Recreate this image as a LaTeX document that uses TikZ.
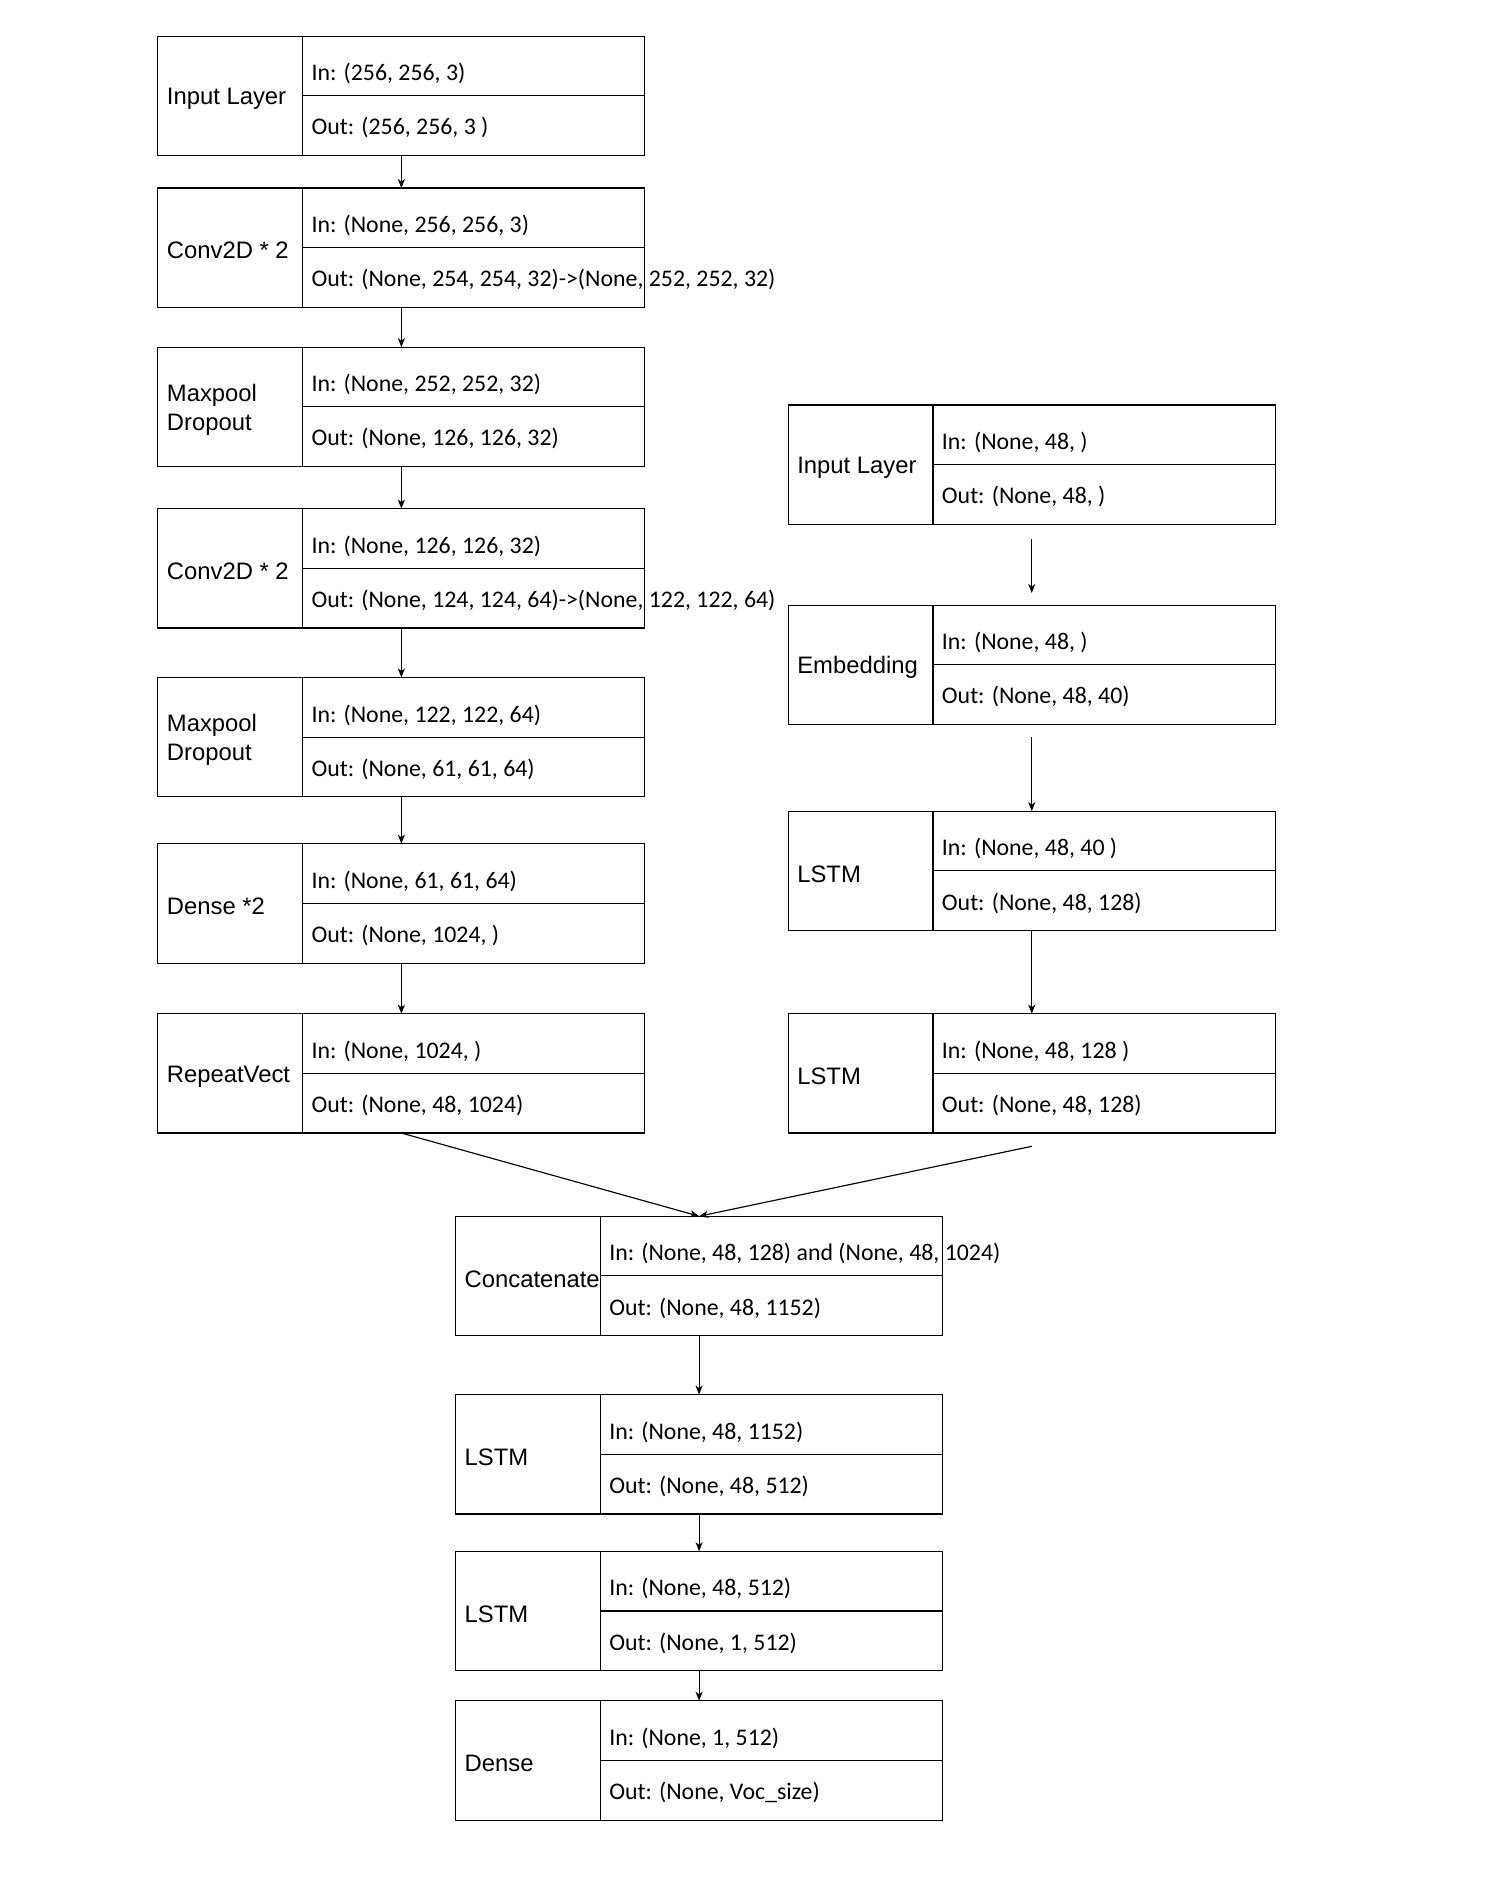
\documentclass[tikz,border=0pt]{standalone}
\usepackage{fontspec}
\setmainfont{Carlito}
\newfontfamily\labelfont{Liberation Sans}
\usetikzlibrary{arrows.meta,calc}

\newcommand{\layer}[6]{%
  \node[layerbox] (#1) at (#2,#3) {};
  \draw ($(#1.north west)+(120,0)$) coordinate (#1-d) -- (#1-d |- #1.south);
  \draw (#1-d |- #1.east) -- (#1.east);
  \node[labeltext] (#1-name) at ($(#1.west)+(7,2.5)$) {#4};
  \node[iotext] (#1-in) at ($(#1.north west)+(127,37)$) {In: #5};
  \node[iotext] (#1-out) at ($(#1.north west)+(127,82)$) {Out: #6};
}

\begin{document}
\begin{tikzpicture}[x=0.024cm, y=-0.024cm, line width=0.65pt,
  layerbox/.style={draw, anchor=north west, minimum width=9.696cm, minimum height=2.376cm, inner sep=0pt, outer sep=0pt},
  labeltext/.style={anchor=west, align=left, inner sep=0pt, font=\labelfont\fontsize{13.5}{16.4}\selectfont},
  iotext/.style={anchor=base west, inner sep=0pt, font=\fontsize{13.5}{16.4}\selectfont},
  flow/.style={-{Stealth[length=1.8mm, width=1.4mm, inset=0.5mm]}}]
\useasboundingbox (0,0) rectangle (1254,1568);

\layer{in1}{131}{30}{Input Layer}{(256, 256, 3)}{(256, 256, 3 )}
\layer{cv1}{131}{156}{Conv2D * 2}{(None, 256, 256, 3)}{(None, 254, 254, 32)->(None, 252, 252, 32)}
\layer{mp1}{131}{288}{Maxpool\\Dropout}{(None, 252, 252, 32)}{(None, 126, 126, 32)}
\layer{cv2}{131}{422}{Conv2D * 2}{(None, 126, 126, 32)}{(None, 124, 124, 64)->(None, 122, 122, 64)}
\layer{mp2}{131}{562}{Maxpool\\Dropout}{(None, 122, 122, 64)}{(None, 61, 61, 64)}
\layer{dn1}{131}{700}{Dense *2}{(None, 61, 61, 64)}{(None, 1024, )}
\layer{rv}{131}{841}{RepeatVect}{(None, 1024, )}{(None, 48, 1024)}

\layer{in2}{654}{336}{Input Layer}{(None, 48, )}{(None, 48, )}
\layer{emb}{654}{502}{Embedding}{(None, 48, )}{(None, 48, 40)}
\layer{ls1}{654}{673}{LSTM}{(None, 48, 40 )}{(None, 48, 128)}
\layer{ls2}{654}{841}{LSTM}{(None, 48, 128 )}{(None, 48, 128)}

\layer{cat}{378}{1009}{Concatenate}{(None, 48, 128) and (None, 48, 1024)}{(None, 48, 1152)}
\layer{ls3}{378}{1157}{LSTM}{(None, 48, 1152)}{(None, 48, 512)}
\layer{ls4}{378}{1287}{LSTM}{(None, 48, 512)}{(None, 1, 512)}
\layer{dn2}{378}{1411}{Dense}{(None, 1, 512)}{(None, Voc\_size)}

\draw[flow] (in1.south) -- (cv1.north);
\draw[flow] (cv1.south) -- (mp1.north);
\draw[flow] (mp1.south) -- (cv2.north);
\draw[flow] (cv2.south) -- (mp2.north);
\draw[flow] (mp2.south) -- (dn1.north);
\draw[flow] (dn1.south) -- (rv.north);

\draw[flow, shorten <=0.29cm, shorten >=0.24cm] (in2.south) -- (emb.north);
\draw[flow, shorten <=0.26cm] (emb.south) -- (ls1.north);
\draw[flow] (ls1.south) -- (ls2.north);

\coordinate (ls2-tail) at ($(ls2.south)+(0,11)$);
\draw[flow] (rv.south) -- (cat.north);
\draw[flow] (ls2-tail) -- (cat.north);

\draw[flow] (cat.south) -- (ls3.north);
\draw[flow] (ls3.south) -- (ls4.north);
\draw[flow] (ls4.south) -- (dn2.north);
\end{tikzpicture}
\end{document}
